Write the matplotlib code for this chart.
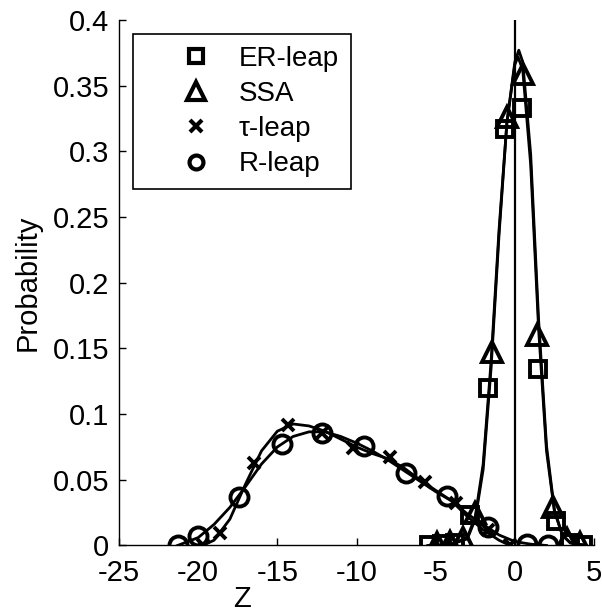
import numpy as np
import matplotlib
matplotlib.use('Agg')
import matplotlib.pyplot as plt
from matplotlib.lines import Line2D

plt.rcParams['font.family'] = ['Liberation Sans', 'DejaVu Sans']

# marker data (histogram bins)
er_x = [-5.4, -4.6, -3.8, -2.8, -1.7, -0.63, 0.44, 1.45, 2.6, 3.5, 4.3]
er_y = [0.0, 0.001, 0.002, 0.023, 0.12, 0.317, 0.333, 0.134, 0.019, 0.002, 0.0]

ssa_x = [-4.9, -4.1, -3.3, -2.5, -1.45, -0.5, 0.5, 1.39, 2.4, 3.3, 4.1]
ssa_y = [0.002, 0.003, 0.006, 0.025, 0.147, 0.326, 0.359, 0.160, 0.029, 0.005, 0.002]

tau_x = [-19.7, -18.6, -16.5, -14.3, -12.2, -10.2, -7.9, -5.7, -3.7, -1.7, -0.3]
tau_y = [0.0, 0.0095, 0.063, 0.092, 0.086, 0.074, 0.067, 0.048, 0.032, 0.012, 0.0]

rl_x = [-21.3, -20.0, -17.4, -14.7, -12.2, -9.5, -6.9, -4.3, -1.7, 0.8, 2.1]
rl_y = [0.0, 0.007, 0.037, 0.077, 0.086, 0.076, 0.055, 0.038, 0.014, 0.001, 0.0]

# smooth fitted curves
er_cx = [-5.5, -4.0, -3.0, -2.5, -2.0, -1.5, -1.0, -0.5, 0.0, 0.2, 0.5, 1.0, 1.5, 2.0, 2.5, 3.0, 3.5, 4.5]
er_cy = [0.0, 0.001, 0.006, 0.022, 0.062, 0.14, 0.24, 0.322, 0.366, 0.372, 0.362, 0.29, 0.165, 0.072, 0.026, 0.008, 0.002, 0.0]

ssa_cx = [-5.0, -4.0, -3.0, -2.5, -2.0, -1.5, -1.0, -0.5, 0.0, 0.25, 0.5, 1.0, 1.5, 2.0, 2.5, 3.0, 3.5, 4.5]
ssa_cy = [0.0, 0.001, 0.005, 0.02, 0.058, 0.135, 0.236, 0.322, 0.368, 0.377, 0.368, 0.298, 0.172, 0.076, 0.027, 0.008, 0.002, 0.0]

tau_cx = [-19.7, -19.0, -18.0, -17.0, -16.0, -15.0, -14.0, -13.0, -12.0, -11.0, -10.0, -9.0, -8.0, -7.0, -6.0, -5.0, -4.0, -3.0, -2.0, -1.0, -0.3]
tau_cy = [0.0, 0.004, 0.02, 0.047, 0.072, 0.087, 0.0925, 0.091, 0.087, 0.081, 0.075, 0.07, 0.066, 0.059, 0.05, 0.042, 0.034, 0.022, 0.012, 0.004, 0.0]

rl_cx = [-21.3, -20.0, -19.0, -18.0, -17.0, -16.0, -15.0, -14.0, -13.0, -12.0, -11.0, -10.0, -9.0, -8.0, -7.0, -6.0, -5.0, -4.0, -3.0, -2.0, -1.0, 0.0, 1.0, 2.0]
rl_cy = [0.0, 0.006, 0.016, 0.029, 0.045, 0.062, 0.075, 0.083, 0.0865, 0.0865, 0.083, 0.078, 0.072, 0.065, 0.057, 0.049, 0.041, 0.034, 0.024, 0.016, 0.008, 0.003, 0.001, 0.0]

fig = plt.figure(figsize=(6.02, 6.14), dpi=100)
ax = fig.add_axes([0.1977, 0.1116, 0.789, 0.8558])

lw = 2.0
for cx, cy in [(er_cx, er_cy), (ssa_cx, ssa_cy), (tau_cx, tau_cy), (rl_cx, rl_cy)]:
    ax.plot(cx, cy, color='black', lw=lw, zorder=2)

mk = dict(linestyle='none', color='black', mfc='none', mew=2.8, zorder=3)
ax.plot(er_x, er_y, marker='s', ms=11, **mk)
ax.plot(ssa_x, ssa_y, marker='^', ms=14, **mk)
ax.plot(tau_x, tau_y, marker='x', ms=9, **mk)
ax.plot(rl_x, rl_y, marker='o', ms=13, **mk)

ax.axvline(0, color='black', lw=1.6, zorder=1)

ax.set_xlim(-25, 5)
ax.set_ylim(0, 0.4)
ax.set_xticks([-25, -20, -15, -10, -5, 0, 5])
ax.set_yticks(np.arange(0, 0.401, 0.05))
ax.set_xticklabels(['-25', '-20', '-15', '-10', '-5', '0', '5'])
ax.set_yticklabels(['0', '0.05', '0.1', '0.15', '0.2', '0.25', '0.3', '0.35', '0.4'])
ax.tick_params(direction='in', length=5, width=1, labelsize=21)
ax.tick_params(axis='x', pad=10)
ax.tick_params(axis='y', pad=7)
ax.spines['top'].set_visible(False)
ax.spines['right'].set_visible(False)
for s in ['left', 'bottom']:
    ax.spines[s].set_linewidth(1)

ax.set_xlabel('Z', fontsize=21)
ax.xaxis.set_label_coords(0.259, -0.075)
ax.set_ylabel('Probability', fontsize=21)
ax.yaxis.set_label_coords(-0.163, 0.5)

hk = dict(linestyle='none', color='black', mfc='none', mew=3)
handles = [
    Line2D([], [], marker='s', ms=10, **hk),
    Line2D([], [], marker='^', ms=13, **hk),
    Line2D([], [], marker='x', ms=8, **hk),
    Line2D([], [], marker='o', ms=10, **hk),
]
labels = ['ER-leap', 'SSA', 'τ-leap', 'R-leap']
leg = ax.legend(handles, labels, loc='upper left', bbox_to_anchor=(0.0295, 0.973),
                borderaxespad=0, fontsize=20, frameon=True, fancybox=False,
                edgecolor='black', handlelength=3.67, handletextpad=-0.28,
                labelspacing=0.33, borderpad=0.42)
leg.get_frame().set_linewidth(1.2)
leg.get_frame().set_alpha(1)

fig.savefig('out.png', dpi=100)
